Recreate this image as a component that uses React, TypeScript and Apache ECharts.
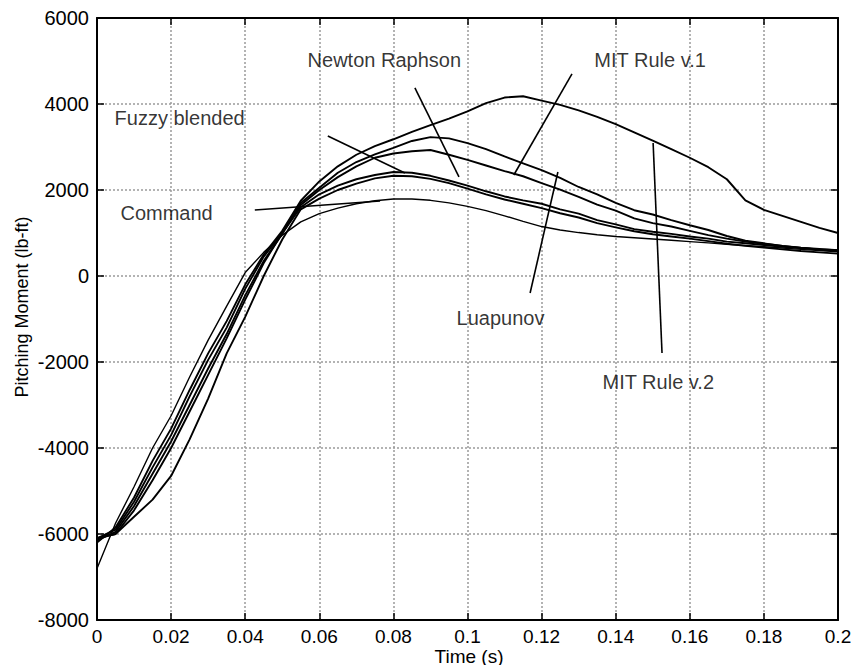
import React, { useEffect, useRef } from "react";
import * as echarts from "echarts";

const FONT = 'Arial, "Liberation Sans", Helvetica, sans-serif';

// time samples (s)
const TIME = [
  0, 0.005, 0.01, 0.015, 0.02, 0.025, 0.03, 0.035, 0.04, 0.045,
  0.05, 0.055, 0.06, 0.065, 0.07, 0.075, 0.08, 0.085, 0.09, 0.095,
  0.1, 0.105, 0.11, 0.115, 0.12, 0.125, 0.13, 0.135, 0.14, 0.145,
  0.15, 0.155, 0.16, 0.165, 0.17, 0.175, 0.18, 0.185, 0.19, 0.195, 0.2,
];

// pitching moment (lb-ft)
const COMMAND = [
  -6800, -5750, -4900, -4000, -3250, -2350, -1490, -700, 80, 550,
  950, 1260, 1450, 1580, 1680, 1750, 1790, 1790, 1760, 1700,
  1620, 1520, 1400, 1270, 1150, 1070, 1010, 960, 920, 890,
  860, 830, 800, 770, 740, 710, 680, 650, 620, 590, 560,
];
const MIT_V2 = [
  -6200, -5850, -5150, -4300, -3550, -2650, -1800, -1050, -200, 500,
  1050, 1750, 2200, 2550, 2820, 3020, 3180, 3350, 3510, 3660,
  3830, 4020, 4150, 4180, 4080, 3980, 3850, 3700, 3530, 3340,
  3150, 2950, 2750, 2530, 2250, 1760, 1540, 1400, 1260, 1120, 1000,
];
const LUAPUNOV = [
  -6100, -5900, -5250, -4450, -3700, -2800, -1950, -1200, -300, 450,
  1000, 1700, 2050, 2400, 2650, 2830, 2980, 3140, 3230, 3200,
  3090, 2950, 2780, 2620, 2460, 2280, 2070, 1900, 1700, 1530,
  1430, 1300, 1180, 1070, 930, 820, 760, 700, 650, 610, 580,
];
const MIT_V1 = [
  -6150, -5950, -5350, -4600, -3850, -3000, -2150, -1350, -450, 350,
  980, 1650, 2000, 2300, 2550, 2750, 2850, 2900, 2930, 2820,
  2700, 2570, 2440, 2320, 2160, 2010, 1840, 1660, 1520, 1340,
  1230, 1150, 1050, 950, 870, 800, 750, 700, 660, 630, 600,
];
const FUZZY = [
  -6100, -6000, -5450, -4750, -4000, -3150, -2300, -1450, -550, 300,
  1000, 1600, 1900, 2100, 2250, 2350, 2420, 2400, 2330, 2220,
  2100, 1970, 1850, 1760, 1680, 1550, 1450, 1300, 1200, 1090,
  1030, 980, 920, 870, 800, 760, 720, 680, 650, 620, 600,
];
const NEWTON = [
  -6100, -6000, -5600, -5200, -4650, -3800, -2850, -1800, -950, 0,
  850, 1550, 1800, 2000, 2150, 2270, 2330, 2320, 2260, 2160,
  2030, 1900, 1780, 1680, 1580, 1460, 1360, 1230, 1130, 1040,
  970, 920, 870, 810, 750, 700, 660, 620, 580, 550, 520,
];

const SERIES_NAMES = ["Command", "MIT Rule v.2", "Luapunov", "MIT Rule v.1", "Fuzzy blended", "Newton Raphson"];
const SERIES_VALUES = [COMMAND, MIT_V2, LUAPUNOV, MIT_V1, FUZZY, NEWTON];

// annotation labels (left edge, vertical middle)
const LABEL_TEXT = ["Newton Raphson", "MIT Rule v.1", "Fuzzy blended", "Command", "Luapunov", "MIT Rule v.2"];
const LABEL_T = [0.0567, 0.1341, 0.0046, 0.0062, 0.0969, 0.1363];
const LABEL_V = [5020, 5020, 3680, 1465, -980, -2465];

// pointer lines: start (t, v) -> end (t, v)
const PTR_T1 = [0.0858, 0.1282, 0.0623, 0.0426, 0.1169, 0.1501];
const PTR_V1 = [4373, 4699, 3256, 1535, -395, 3094];
const PTR_T2 = [0.0977, 0.1125, 0.0831, 0.0764, 0.1244, 0.1525];
const PTR_V2 = [2303, 2349, 2396, 1745, 2419, -1791];

const X_TICKS = { min: 0, max: 0.2, interval: 0.02 };
const Y_TICKS = { min: -8000, max: 6000, interval: 2000 };

export default function App() {
  const ref = useRef<HTMLDivElement>(null);
  useEffect(() => {
    if (!ref.current) return;
    const chart = echarts.init(ref.current, null, { renderer: "svg" });
    const axisLine = { show: true, onZero: false, lineStyle: { color: "#000", width: 2 } };
    const tick = { show: true, inside: true, length: 7, lineStyle: { color: "#000", width: 1.5 } };
    const split = { show: true, lineStyle: { color: "#9a9a9a", type: [2, 2], width: 1.5 } };
    const fmtX = (v: number) => String(+v.toFixed(2));
    const fmtY = (v: number) => String(Math.round(v));

    const curveSeries = SERIES_VALUES.map((vals, i) => ({
      name: SERIES_NAMES[i],
      type: "line",
      data: TIME.map((t, k) => [t, vals[k]]),
      showSymbol: false,
      symbol: "none",
      lineStyle: { color: "#000", width: i === 0 ? 1.4 : 1.9 },
      itemStyle: { color: "#000" },
      z: 3,
    }));

    const option: any = {
      animation: false,
      backgroundColor: "#fff",
      textStyle: { fontFamily: FONT },
      grid: { left: 97, right: 17, top: 18, bottom: 45, containLabel: false, outerBoundsMode: "none" },
      xAxis: [
        {
          type: "value", position: "bottom", ...X_TICKS,
          axisLine, axisTick: tick, splitLine: split,
          axisLabel: { color: "#000", fontSize: 19, fontFamily: FONT, margin: 7, formatter: fmtX },
        },
        {
          type: "value", position: "top", ...X_TICKS,
          axisLine, axisTick: tick, splitLine: { show: false },
          axisLabel: { show: false },
        },
      ],
      yAxis: [
        {
          type: "value", position: "left", ...Y_TICKS,
          axisLine, axisTick: tick, splitLine: split,
          axisLabel: { color: "#000", fontSize: 20, fontFamily: FONT, margin: 8, formatter: fmtY },
        },
        {
          type: "value", position: "right", ...Y_TICKS,
          axisLine, axisTick: tick, splitLine: { show: false },
          axisLabel: { show: false },
        },
      ],
      series: [
        ...curveSeries,
        {
          type: "lines",
          coordinateSystem: "cartesian2d",
          xAxisIndex: 0,
          yAxisIndex: 0,
          data: PTR_T1.map((t, i) => ({ coords: [[t, PTR_V1[i]], [PTR_T2[i], PTR_V2[i]]] })),
          lineStyle: { color: "#000", width: 1.6, opacity: 1 },
          z: 4,
        },
        {
          type: "scatter",
          symbolSize: 1,
          itemStyle: { color: "rgba(0,0,0,0)" },
          data: LABEL_TEXT.map((s, i) => [LABEL_T[i], LABEL_V[i], s]),
          label: {
            show: true,
            position: "right",
            distance: 0,
            color: "#000",
            fontSize: 20,
            fontFamily: FONT,
            formatter: (p: any) => p.data[2],
          },
          z: 5,
        },
      ],
      graphic: [
        {
          type: "text",
          x: 469,
          y: 656,
          style: { text: "Time (s)", fill: "#000", font: `19px ${FONT}`, textAlign: "center", textVerticalAlign: "middle" },
        },
        {
          type: "text",
          x: 22,
          y: 307,
          rotation: Math.PI / 2,
          style: { text: "Pitching Moment (lb-ft)", fill: "#000", font: `18px ${FONT}`, textAlign: "center", textVerticalAlign: "middle" },
        },
      ],
    };
    chart.setOption(option);
    return () => chart.dispose();
  }, []);
  return (
    <div
      ref={ref}
      style={{ position: "fixed", left: 0, top: 0, width: 855, height: 665, background: "#fff" }}
    />
  );
}
